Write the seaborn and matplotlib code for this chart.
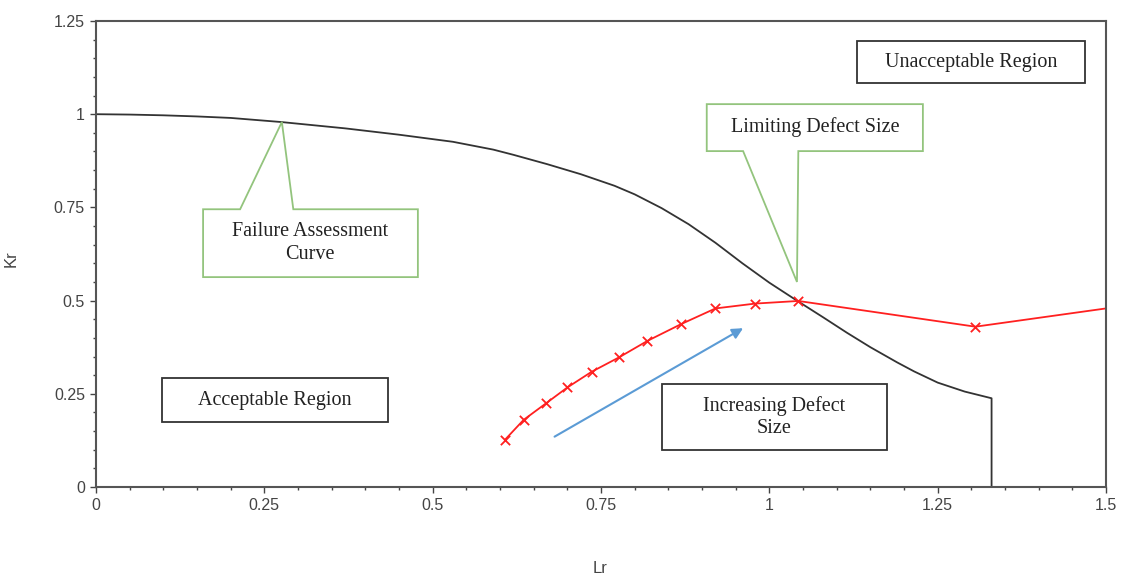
import numpy as np
import pandas as pd
import matplotlib.pyplot as plt
import seaborn as sns
from matplotlib.patches import Polygon, Rectangle

# failure assessment curve
fac_lr = [0, 0.05, 0.1, 0.15, 0.2, 0.275, 0.37, 0.45, 0.53, 0.59, 0.62, 0.67, 0.72, 0.77, 0.80, 0.84,
          0.88, 0.92, 0.96, 1.0, 1.04, 1.08, 1.115, 1.15, 1.19, 1.215, 1.25, 1.29, 1.33, 1.33]
fac_kr = [1.0, 0.999, 0.997, 0.994, 0.99, 0.979, 0.962, 0.945, 0.926, 0.905, 0.891, 0.866, 0.839, 0.808, 0.785, 0.748,
          0.705, 0.655, 0.600, 0.548, 0.501, 0.455, 0.414, 0.375, 0.334, 0.310, 0.280, 0.256, 0.238, 0.0]

# assessment points for increasing defect size
pts_lr = [0.607, 0.635, 0.668, 0.700, 0.736, 0.777, 0.819, 0.869, 0.920, 0.979, 1.043, 1.306, 1.5]
pts_kr = [0.126, 0.180, 0.224, 0.267, 0.309, 0.348, 0.392, 0.437, 0.479, 0.492, 0.499, 0.430, 0.479]

x_ticks = [0, 0.25, 0.5, 0.75, 1, 1.25, 1.5]
x_labels = ['0', '0.25', '0.5', '0.75', '1', '1.25', '1.5']
y_ticks = [0, 0.25, 0.5, 0.75, 1, 1.25]
y_labels = ['0', '0.25', '0.5', '0.75', '1', '1.25']

fac = pd.DataFrame({'Lr': fac_lr, 'Kr': fac_kr})
pts = pd.DataFrame({'Lr': pts_lr, 'Kr': pts_kr})

sns.set_style('ticks')
plt.rcParams['font.family'] = ['Liberation Sans', 'DejaVu Sans']

fig = plt.figure(figsize=(11.27, 5.77), dpi=100)
ax = fig.add_axes([0.0852, 0.156, 0.8962, 0.8076])

sns.lineplot(data=fac, x='Lr', y='Kr', sort=False, estimator=None, color='#333333',
             linewidth=1.3, ax=ax)
# red line, then the x markers (last point has none)
sns.lineplot(data=pts, x='Lr', y='Kr', sort=False, estimator=None, color='#ff2020',
             linewidth=1.3, ax=ax)
sns.scatterplot(data=pts.iloc[:-1], x='Lr', y='Kr', marker='x', s=45, color='#ff2020',
                linewidth=1.3, zorder=3, ax=ax)

ax.set_xlim(0, 1.5)
ax.set_ylim(0, 1.25)
ax.set_xticks(x_ticks)
ax.set_xticklabels(x_labels)
ax.set_yticks(y_ticks)
ax.set_yticklabels(y_labels)
ax.set_xticks(np.arange(0, 1.5, 0.05), minor=True)
ax.set_yticks(np.arange(0, 1.25, 0.05), minor=True)
ax.tick_params(which='major', length=4, width=1, color='#444444', labelsize=11.5,
               labelcolor='#444444', pad=4)
ax.tick_params(which='minor', length=2.5, width=1, color='#444444')
for s in ax.spines.values():
    s.set_color('#555555')
    s.set_linewidth(1.5)

ax.set_xlabel('Lr', fontsize=12, color='#444444')
ax.set_ylabel('Kr', fontsize=12, color='#444444')
ax.xaxis.set_label_coords(0.499, -0.158)
ax.yaxis.set_label_coords(-0.077, 0.491)

serif = ['Liberation Serif', 'DejaVu Serif']
green = '#93c47d'

# plain boxes
def box(x0, y0, x1, y1, text):
    ax.add_patch(Rectangle((x0, y0), x1 - x0, y1 - y0, facecolor='white',
                           edgecolor='#333333', linewidth=1.3, zorder=4))
    ax.text((x0 + x1) / 2, (y0 + y1) / 2, text, ha='center', va='center',
            fontsize=14.5, family=serif, color='#222222', zorder=5, linespacing=1.2)

box(1.130, 1.083, 1.469, 1.196, 'Unacceptable Region')
box(0.098, 0.174, 0.434, 0.292, 'Acceptable Region')
box(0.840, 0.099, 1.174, 0.276, 'Increasing Defect\nSize')

# callouts
fac_call = [(0.159, 0.563), (0.478, 0.563), (0.478, 0.745), (0.293, 0.745),
            (0.276, 0.979), (0.214, 0.745), (0.159, 0.745)]
ax.add_patch(Polygon(fac_call, closed=True, facecolor='white', edgecolor=green,
                     linewidth=1.3, zorder=4))
ax.text(0.318, 0.655, 'Failure Assessment\nCurve', ha='center', va='center',
        fontsize=14.5, family=serif, color='#222222', zorder=5, linespacing=1.3)

lim_call = [(0.907, 1.027), (1.228, 1.027), (1.228, 0.901), (1.043, 0.901),
            (1.041, 0.550), (0.961, 0.901), (0.907, 0.901)]
ax.add_patch(Polygon(lim_call, closed=True, facecolor='white', edgecolor=green,
                     linewidth=1.3, zorder=4))
ax.text(1.068, 0.965, 'Limiting Defect Size', ha='center', va='center',
        fontsize=14.5, family=serif, color='#222222', zorder=5)

# direction arrow
ax.annotate('', xy=(0.961, 0.426), xytext=(0.681, 0.135),
            arrowprops=dict(arrowstyle='-|>', color='#5b9bd5', lw=1.5,
                            mutation_scale=16, shrinkA=0, shrinkB=0))

fig.savefig('out.png', dpi=100)
